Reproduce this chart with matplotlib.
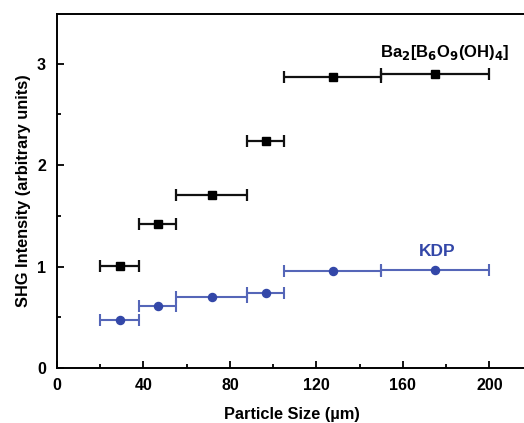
import matplotlib
matplotlib.use("Agg")
import matplotlib.pyplot as plt
import numpy as np
from matplotlib.ticker import MultipleLocator

# Data
bin_lo = [20, 38, 55, 88, 105, 150]
bin_hi = [38, 55, 88, 105, 150, 200]
x_centers = [29, 46.5, 71.5, 96.5, 127.5, 175]
ba_vals = [1.01, 1.42, 1.71, 2.24, 2.87, 2.90]
kdp_vals = [0.47, 0.61, 0.70, 0.74, 0.96, 0.97]

plt.rcParams['font.family'] = ['Liberation Sans', 'DejaVu Sans']
plt.rcParams['font.weight'] = 'bold'
plt.rcParams['mathtext.default'] = 'bf'

fig = plt.figure(figsize=(5.24, 4.23), dpi=100)
ax = fig.add_axes([57/524, 55/423, (527 - 57)/524, (409 - 55)/423])

x = np.array(x_centers)
xerr = np.array([x - np.array(bin_lo), np.array(bin_hi) - x])

blue_pt = '#3347a8'
blue_ln = '#5566b8'

ax.errorbar(x, ba_vals, xerr=xerr, fmt='s', color='black', ms=5.2,
            ecolor='#111111', elinewidth=1.6, capsize=4, capthick=1.6)
ax.errorbar(x, kdp_vals, xerr=xerr, fmt='o', color=blue_pt, ms=5.8,
            ecolor=blue_ln, elinewidth=1.5, capsize=4, capthick=1.5)

ax.text(179.5, 3.11, r'Ba$_\mathbf{2}$[B$_\mathbf{6}$O$_\mathbf{9}$(OH)$_\mathbf{4}$]',
        ha='center', va='center', fontsize=12, fontweight='bold', color='black')
ax.text(176, 1.15, 'KDP', ha='center', va='center', fontsize=12.5,
        fontweight='bold', color=blue_pt)

ax.set_xlim(0, 217.4)
ax.set_ylim(0, 3.49)
ax.xaxis.set_major_locator(MultipleLocator(40))
ax.xaxis.set_minor_locator(MultipleLocator(20))
ax.yaxis.set_major_locator(MultipleLocator(1))
ax.yaxis.set_minor_locator(MultipleLocator(0.5))
ax.tick_params(which='both', direction='in', width=1.3, labelsize=11.5)
ax.tick_params(axis='x', pad=7)
ax.tick_params(axis='y', pad=8)
ax.tick_params(which='major', length=5)
ax.tick_params(which='minor', length=3)
for lab in ax.get_xticklabels() + ax.get_yticklabels():
    lab.set_fontweight('bold')
for s in ax.spines.values():
    s.set_linewidth(1.4)

ax.set_xlabel('Particle Size (µm)', fontsize=11.8, fontweight='bold', labelpad=10)
ax.set_ylabel('SHG Intensity (arbitrary units)', fontsize=11.8, fontweight='bold', labelpad=4)

fig.savefig('out.png', dpi=100)
